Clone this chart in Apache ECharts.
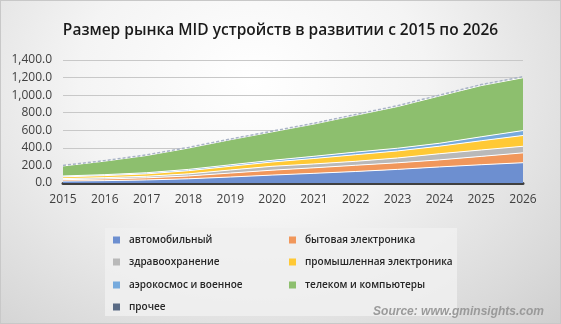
<!DOCTYPE html>
<html><head><meta charset="utf-8">
<script src="https://cdn.jsdelivr.net/npm/echarts@6/dist/echarts.min.js"></script>
<style>
html,body{margin:0;padding:0;}
#c{width:561px;height:324px;background:radial-gradient(ellipse at 45% 25%, #ffffff 0%, #f4f4f4 40%, #d9d9d9 85%, #cfcfcf 100%);box-sizing:border-box;border:1px solid #c8c8c8;}
</style></head><body>
<div id="c"></div>
<script>
var years = ['2015','2016','2017','2018','2019','2020','2021','2022','2023','2024','2025','2026'];
var seriesNames = ['автомобильный','бытовая электроника','здравоохранение','промышленная электроника','аэрокосмос и военное','телеком и компьютеры','прочее'];
var automotive = [22,27,35,48,68,90,110,131,155,183,208,231];
var consumer   = [16,19,24,32,45,56,63,71,75,80,95,112];
var healthcare = [12,15,18,24,35,44,44,45,55,70,73,75];
var industrial = [20,23,27,36,42,49,62,75,80,86,105,123];
var aerospace  = [10,11,13,15,17,19,25,30,31,33,45,56];
var telecom    = [114,154,196,243,285,324,367,419,474,538,583,601];
var other      = [6,6,7,7,8,8,9,9,10,10,11,12];
var yTicks = {min:0, max:1400, interval:200};

var values = [automotive, consumer, healthcare, industrial, aerospace, telecom, other];
var fills = ['#6d8fd0','#f1975b','#b9b9b9','#ffc935','#76aadd','#8dbf6e','#cdd4e0'];
var legendColors = ['#6d8fd0','#f1975b','#b9b9b9','#ffc935','#76aadd','#8dbf6e','#5a6b85'];

var series = values.map(function(v,i){
  return {
    name: seriesNames[i], type:'line', stack:'total', data:v,
    symbol:'none', smooth:false,
    lineStyle: i===6 ? {color:'#a9b3c6', width:1.5, type:[3,2]} : {color:'#ffffff', width:1},
    areaStyle: {color: fills[i], opacity:1},
    itemStyle: {color: fills[i]},
    z: 2
  };
});

var legendPos = [[107,229],[283,229],[107,251],[283,251],[107,274],[283,274],[107,296]];
var legends = seriesNames.map(function(n,i){
  return {
    data:[{name:n, itemStyle:{color:legendColors[i]}, icon:'rect'}],
    left: legendPos[i][0], top: legendPos[i][1],
    itemWidth:7, itemHeight:7, selectedMode:false,
    textStyle:{fontFamily:'Open Sans', fontWeight:600, fontSize:10, color:'#262626', padding:[0,0,0,4]}
  };
});

var chart = echarts.init(document.getElementById('c'), null, {renderer:'canvas'});
chart.setOption({
  backgroundColor:'transparent',
  animation:false,
  title:{text:'Размер рынка MID устройств в развитии с 2015 по 2026', left:'center', top:17,
    textStyle:{fontFamily:'Open Sans', fontWeight:600, fontSize:15.5, color:'#1a1a1a'}},
  graphic:[
    {type:'rect', left:104, top:227, shape:{width:352, height:88}, style:{fill:'rgba(240,240,240,0.85)'}, z:-1},
    {type:'text', right:16, top:305, style:{text:'Source: www.gminsights.com', font:'italic bold 12px "Liberation Sans", Arial', fill:'#9a9a9a'}}
  ],
  legend: legends,
  grid:{left:62, right:37, top:59, bottom:140},
  xAxis:{type:'category', data:years, boundaryGap:false,
    axisLine:{lineStyle:{color:'#404040', width:3}}, axisTick:{show:false},
    axisLabel:{fontFamily:'Open Sans', fontSize:12, color:'#404040', margin:11}},
  yAxis:{type:'value', min:yTicks.min, max:yTicks.max, interval:yTicks.interval,
    axisLine:{show:false}, axisTick:{show:false},
    splitLine:{lineStyle:{color:'#c8c8c8', width:1}},
    axisLabel:{fontFamily:'Open Sans', fontSize:12, color:'#404040', margin:11,
      formatter:function(v){return v.toLocaleString('en-US',{minimumFractionDigits:1, maximumFractionDigits:1});}}},
  series: series
});
</script>
</body></html>
